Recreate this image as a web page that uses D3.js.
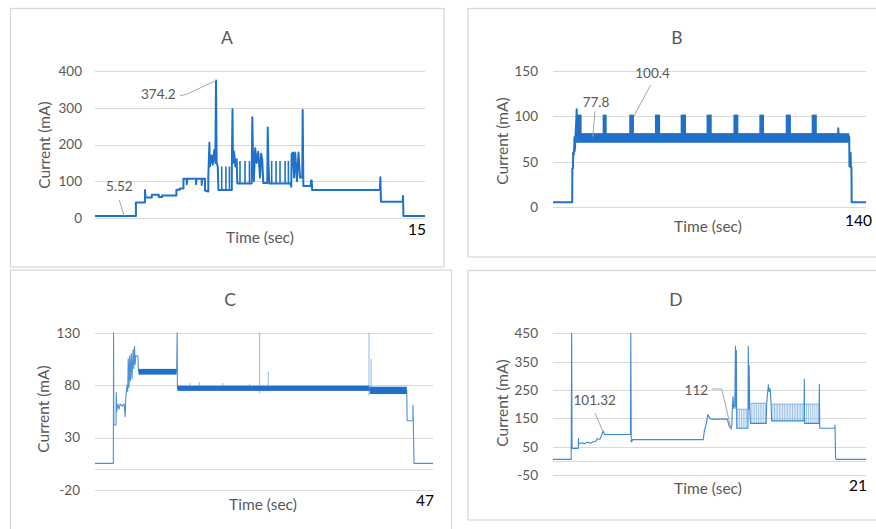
<!DOCTYPE html>
<html><head><meta charset="utf-8">
<script src="https://cdn.jsdelivr.net/npm/d3@7"></script>
<style>
body{margin:0;background:#fff}
svg{display:block}
text{font-family:Lato,"Open Sans",sans-serif}
</style>
</head><body>
<svg id="chart" width="876" height="529"></svg>
<script>
// ---------------- DATA ----------------
// Panel A (0–15 s)
const aTicks = [0, 100, 200, 300, 400];
const aLine = [[0,5.5],[1.86,5.5],[1.86,42],[2.27,42],[2.27,76],[2.3,56],[2.58,56],[2.58,63],[2.9,63],[2.9,57],[3.05,57],[3.05,61],[3.7,61],[3.7,77],[3.85,77],[3.85,80],[4.02,80],[4.02,107],[4.17,107],[4.17,92],[4.2,107],[4.59,107],[4.59,92],[4.62,107],[4.85,107],[4.85,90],[4.88,107],[5.0,107],[5.0,75],[5.15,72],[5.15,110],[5.2,205],[5.22,140],[5.3,170],[5.35,145],[5.42,185],[5.47,150],[5.5,374.2],[5.53,150],[5.58,140],[5.61,76],[6.22,76],[6.22,140],[6.25,296],[6.27,150],[6.32,180],[6.38,140],[6.44,160],[6.47,94],[7.12,94],[7.15,274],[7.18,175],[7.22,100],[7.28,190],[7.35,150],[7.42,180],[7.5,110],[7.55,175],[7.6,160],[7.65,95],[7.83,95],[7.85,246],[7.88,155],[7.92,94],[8.88,94],[8.92,85],[8.94,175],[9.0,178],[9.05,110],[9.1,178],[9.18,100],[9.25,178],[9.32,110],[9.42,110],[9.44,294],[9.47,87],[9.8,87],[9.82,102],[9.85,102],[9.87,76],[12.95,76],[12.97,111],[13.0,44],[13.99,44],[14.0,60],[14.02,5.5],[15,5.5]];
const aSpikes = [[5.76,76,140],[5.95,76,140],[6.11,76,140],[6.59,94,155],[6.82,94,155],[7.02,94,155],[8.03,94,155],[8.23,94,155],[8.41,94,155],[8.64,94,155],[8.79,94,155]];
const aNotes = [["374.2",5.5,374.2],["5.52",1.32,5.52]];

// Panel B (0–140 s)
const bTicks = [0, 50, 100, 150];
const bLine = [[0,5.5],[8.6,5.5],[8.65,43],[8.95,43],[9.0,60],[9.3,58],[9.5,66],[9.6,77],[9.7,62],[9.85,66],[10.1,80],[10.4,95],[10.6,108],[10.75,80],[127.5,80],[127.6,87],[127.7,80],[132.5,78],[132.6,45],[132.9,46],[133.1,60],[133.25,44],[133.5,44],[133.6,5.5],[140,5.5]];
const bBand = [[10.3,132.5,71,81.5]];
const bPulses = [[10.7,12.8,78,102],[22.2,24.0,78,102],[34.1,36.2,78,102],[45.6,47.9,78,102],[57.1,59.5,78,102],[68.7,71.0,78,102],[80.7,82.9,78,102],[92.3,94.4,78,102],[104.1,106.4,78,102],[115.7,118.0,78,102]];
const bNotes = [["77.8",17.8,77.8],["100.4",36.2,100.4]];

// Panel C (0–47 s)
const cTicks = [-20, 30, 80, 130];
const cLine = [[0,5.4],[2.55,5.4],[2.58,130],[2.62,42],[2.92,42],[2.96,73],[3.02,55],[3.2,62],[3.35,57],[3.5,62],[3.8,60],[4.05,62],[4.2,50],[4.3,70],[4.45,80],[4.55,74],[4.62,105],[4.72,78],[4.82,108],[4.92,84],[5.05,110],[5.15,86],[5.3,114],[5.4,96],[5.5,117],[5.58,100],[5.68,108],[5.97,108],[6.05,93],[11.35,93],[11.42,130],[11.46,77],[38.1,77],[38.2,75],[43.35,75],[43.4,46],[44.2,46],[44.22,61],[44.36,5.4],[47,5.4]];
const cBands = [[6.05,11.35,90,95.5],[11.45,38.15,74.5,79.5],[38.2,43.35,71.5,78.5]];
const cSpikes = [[13.2,78,82],[14.5,78,83],[17.8,78,82],[21.5,78,81],[22.9,72,130],[24.1,76,93],[38.1,70,130],[38.4,76,105]];

// Panel D (0–21 s)
const dTicks = [-50, 50, 150, 250, 350, 450];
const dLine = [[0,5.3],[1.22,5.3],[1.25,450],[1.28,44],[1.7,44],[1.71,79],[1.73,60],[1.95,64],[2.1,60],[2.3,66],[2.5,62],[2.7,67],[2.9,70],[2.95,78],[3.15,76],[3.25,88],[3.37,106],[3.45,93],[5.2,93],[5.22,450],[5.25,67],[5.35,75],[10.08,75],[10.15,105],[10.25,125],[10.3,135],[10.38,163],[10.5,152],[10.6,147],[11.7,147],[11.8,125],[11.95,112],[12.0,125],[12.03,190],[12.08,226],[12.12,185],[12.2,195],[12.24,404],[12.27,185],[12.3,390],[12.33,115],[13.08,115],[13.1,404],[13.14,185],[13.16,336],[13.2,180],[13.25,132],[14.3,132],[14.34,203],[14.4,240],[14.45,268],[14.5,245],[14.56,255],[14.62,215],[14.67,141],[16.84,141],[16.86,289],[16.88,132],[17.85,132],[17.87,270],[17.9,115],[18.9,115],[18.92,126],[18.96,9],[19.0,5.3],[21,5.3]];
const dCombs = [[12.35,13.05,115,182],[13.25,14.3,132,203],[14.67,16.84,141,200],[16.88,17.85,132,200]];
const dSpikes = [[12.4,115,182],[12.52,115,182],[12.64,115,182],[12.76,115,182],[12.88,115,182],[13.0,115,182],
  [13.3,132,203],[13.42,132,203],[13.54,132,203],[13.66,132,203],[13.78,132,203],[13.9,132,203],[14.02,132,203],[14.14,132,203],[14.26,132,203],
  [14.75,141,200],[14.86,141,200],[14.97,141,200],[15.08,141,200],[15.19,141,200],[15.3,141,200],[15.41,141,200],[15.52,141,200],[15.63,141,200],[15.74,141,200],[15.85,141,200],[15.96,141,200],[16.07,141,200],[16.18,141,200],[16.29,141,200],[16.4,141,200],[16.51,141,200],[16.62,141,200],[16.73,141,200],
  [17.0,132,200],[17.13,132,200],[17.26,132,200],[17.39,132,200],[17.52,132,200],[17.65,132,200],[17.78,132,200]];
const dNotes = [["101.32",3.37,101.32],["112",11.95,112]];

// ---------------- LAYOUT ----------------
const GRID = "#d9d9d9", TXT = "#595959", LEAD = "#a6a6a6";
const svg = d3.select("#chart");

const frames = [
  {x:10.5,y:8.5,w:433.5,h:258.5},
  {x:468,y:8.5,w:420,h:248.5},
  {x:10.5,y:270,w:441,h:270},
  {x:468,y:270.5,w:420,h:249.5}
];
frames.forEach(f => svg.append("rect").attr("x",f.x).attr("y",f.y).attr("width",f.w).attr("height",f.h)
  .attr("fill","none").attr("stroke",GRID).attr("stroke-width",1.3));

const panels = [
  {title:"A", tx:227, ty:43.5, x:[95,425], y:[218,71], xd:[0,15], yd:[0,400], ticks:aTicks, tickX:82,
   yTitle:[44,145], xTitle:[260,242.5], end:"15", endX:426, endY:234.5,
   line:aLine, lw:2, lc:"#1f72c9", spikes:aSpikes, notes:aNotes,
   leaders:[{t:[158.3,99.3], p:[[180,95.7],[186.7,94.3]]},{t:[119.3,190.7], p:[[119.3,200]]}]},
  {title:"B", tx:677, ty:43.5, x:[553,866], y:[207.3,71], xd:[0,140], yd:[0,150], ticks:bTicks, tickX:538,
   yTitle:[502.5,141], xTitle:[708,232.3], end:"140", endX:872, endY:225.5,
   line:bLine, lw:2, lc:"#1f72c9", bands:bBand, pulses:bPulses, notes:bNotes,
   leaders:[{t:[596,107.3], p:[[595,111]]},{t:[652.5,78.3], p:[[650.7,85]]}]},
  {title:"C", tx:230, ty:305.5, x:[95,433], y:[490,332.7], xd:[0,47], yd:[-20,130], ticks:cTicks, tickX:80,
   yTitle:[43,409], xTitle:[263,510], end:"47", endX:434, endY:505.5, zero:true,
   line:cLine, lw:1.1, lc:"#4a90db", bands:cBands, spikes:cSpikes, spikeColor:"#8cbbe9", notes:[] , leaders:[]},
  {title:"D", tx:676, ty:305.5, x:[553,866], y:[475,333.3], xd:[0,21], yd:[-50,450], ticks:dTicks, tickX:538,
   yTitle:[502,403], xTitle:[708,494.3], end:"21", endX:867, endY:491, zero:true,
   line:dLine, lw:1.1, lc:"#3d88d8", spikes:dSpikes, spikeColor:"#7fb1e6", spikeW:0.8, combs:dCombs, notes:dNotes,
   leaders:[{t:[594.7,405], p:[[595,413]]},{t:[696.3,395], p:[[711.7,389],[721.7,389]]}]}
];

panels.forEach(P => {
  const g = svg.append("g");
  const x = d3.scaleLinear().domain(P.xd).range(P.x);
  const y = d3.scaleLinear().domain(P.yd).range(P.y);
  g.selectAll(".grid").data(P.ticks).join("line")
    .attr("x1",P.x[0]).attr("x2",P.x[1])
    .attr("y1",d=>Math.round(y(d))+0.5).attr("y2",d=>Math.round(y(d))+0.5)
    .attr("stroke",GRID).attr("stroke-width",1.2);
  if (P.zero) g.append("line").attr("x1",P.x[0]).attr("x2",P.x[1])
    .attr("y1",Math.round(y(0))+0.5).attr("y2",Math.round(y(0))+0.5).attr("stroke",GRID).attr("stroke-width",1.2);
  g.selectAll(".tl").data(P.ticks).join("text")
    .attr("x",P.tickX).attr("y",d=>y(d)).attr("dy","0.36em").attr("text-anchor","end")
    .attr("font-size",13.5).attr("fill",TXT).text(d=>d);
  g.append("text").attr("x",P.tx).attr("y",P.ty).attr("text-anchor","middle")
    .attr("font-size",17.5).attr("fill",TXT).text(P.title);
  g.append("text").attr("transform",`translate(${P.yTitle[0]},${P.yTitle[1]}) rotate(-90)`)
    .attr("text-anchor","middle").attr("dy","0.36em").attr("font-size",15.5).attr("fill",TXT).text("Current (mA)");
  g.append("text").attr("x",P.xTitle[0]).attr("y",P.xTitle[1]).attr("text-anchor","middle")
    .attr("font-size",15.5).attr("fill",TXT).text("Time (sec)");
  g.append("text").attr("x",P.endX).attr("y",P.endY).attr("text-anchor","end")
    .attr("font-size",15.5).attr("fill","#000").text(P.end);
  // combs (top rails of pulse trains)
  (P.combs||[]).forEach(c => g.append("line").attr("x1",x(c[0])).attr("x2",x(c[1]))
    .attr("y1",y(c[3])).attr("y2",y(c[3])).attr("stroke",P.spikeColor).attr("stroke-width",1));
  // spikes
  g.selectAll(".sp").data(P.spikes||[]).join("line")
    .attr("x1",d=>x(d[0])).attr("x2",d=>x(d[0])).attr("y1",d=>y(d[1])).attr("y2",d=>y(d[2]))
    .attr("stroke",P.spikeColor||P.lc).attr("stroke-width",P.spikeW||(P.spikeColor?1:1.6));
  // main line
  g.append("path").datum(P.line)
    .attr("d",d3.line().x(d=>x(d[0])).y(d=>y(d[1])))
    .attr("fill","none").attr("stroke",P.lc).attr("stroke-width",P.lw).attr("stroke-linejoin","round");
  // dense noisy regions drawn over the line
  (P.bands||[]).forEach(b => g.append("rect").attr("x",x(b[0])).attr("width",x(b[1])-x(b[0]))
    .attr("y",y(b[3])).attr("height",y(b[2])-y(b[3])).attr("fill","#1f70c6"));
  (P.pulses||[]).forEach(b => g.append("rect").attr("x",x(b[0])).attr("width",x(b[1])-x(b[0]))
    .attr("y",y(b[3])).attr("height",y(b[2])-y(b[3])).attr("fill","#1f70c6"));
  P.notes.forEach((n,i) => {
    const L = P.leaders[i];
    const pts = L.p.concat([[x(n[1]),y(n[2])]]);
    g.append("path").attr("d",d3.line()(pts)).attr("fill","none").attr("stroke",LEAD).attr("stroke-width",1);
    g.append("text").attr("x",L.t[0]).attr("y",L.t[1]).attr("text-anchor","middle")
      .attr("font-size",13.5).attr("fill",TXT).text(n[0]);
  });
});
</script>
</body></html>
